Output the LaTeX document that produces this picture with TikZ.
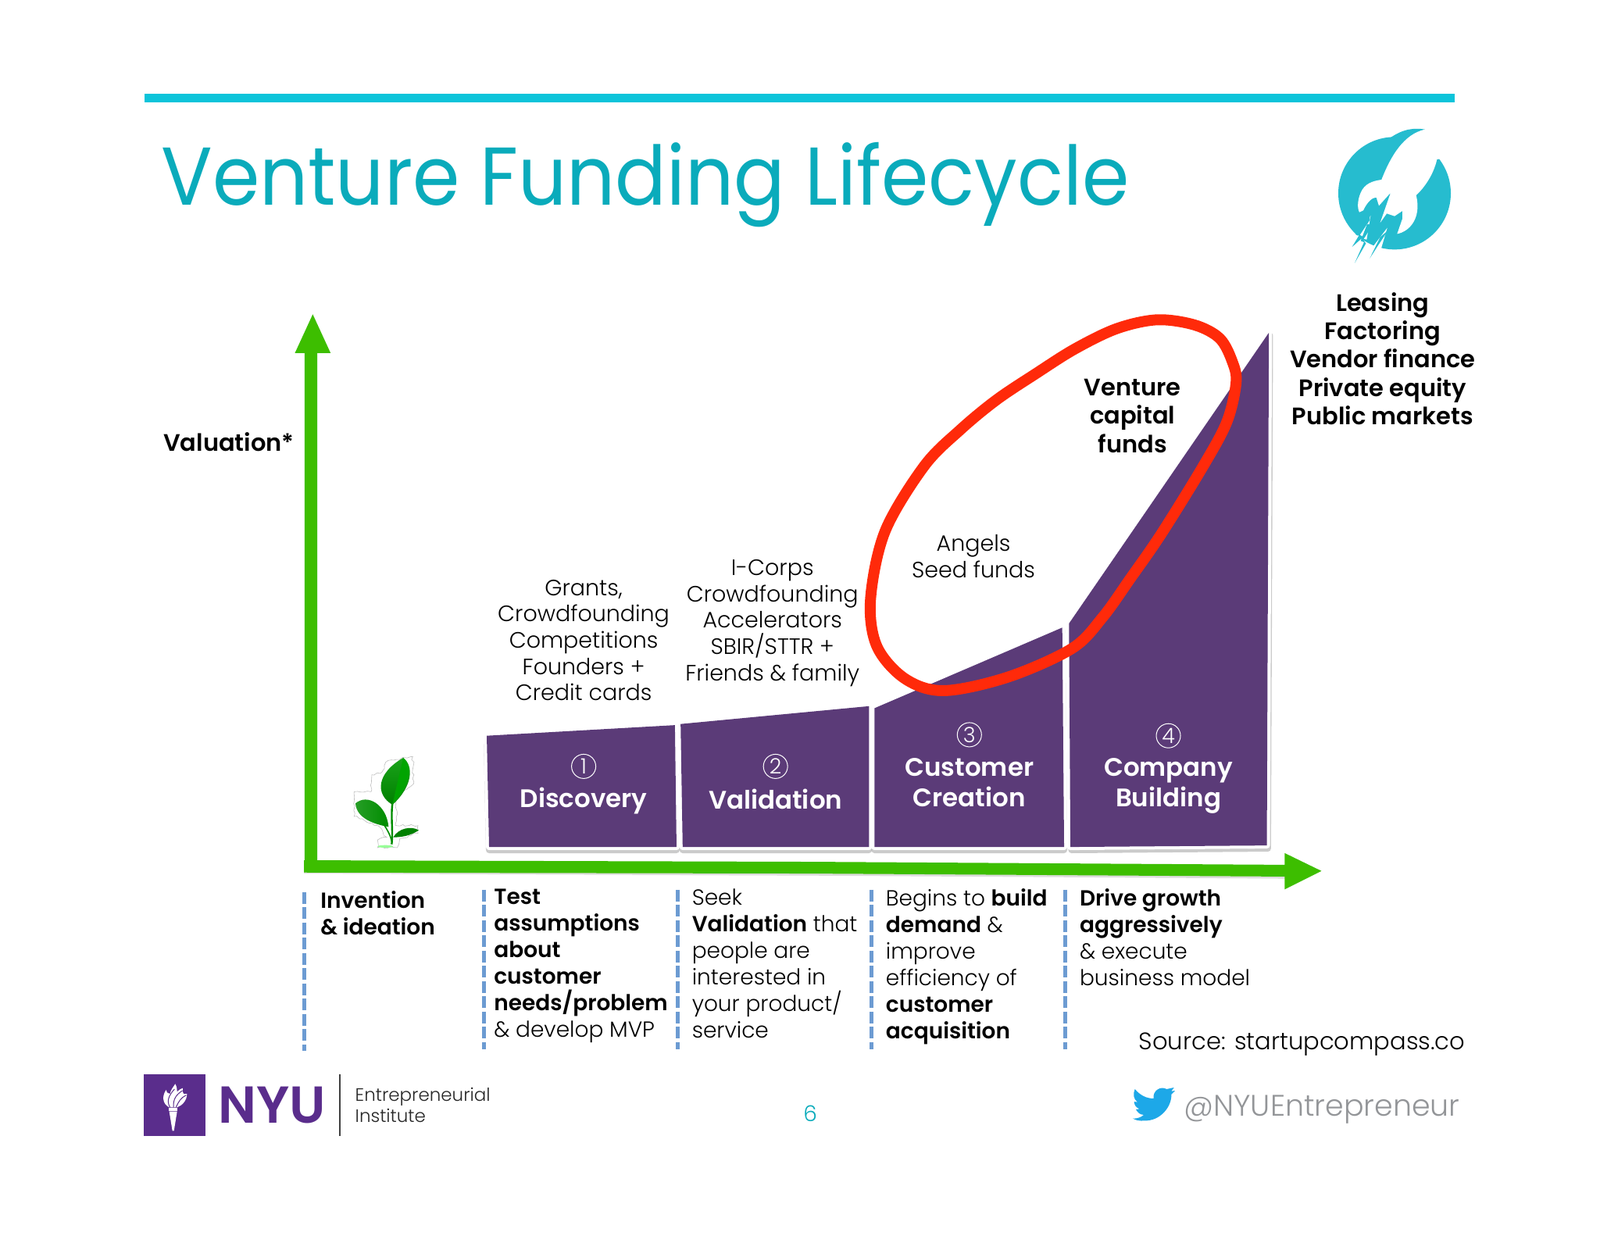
\documentclass[tikz,border=0pt]{standalone}
\usepackage{fontspec}
\usetikzlibrary{decorations.pathmorphing}
\setmainfont{Poppins Light}[BoldFont={Poppins SemiBold}]
\newfontfamily\regf{Poppins}[FakeStretch=0.925]
\definecolor{rulec}{HTML}{0CC4DA}
\definecolor{titlec}{HTML}{0AABBB}
\definecolor{rocketc}{HTML}{26BCCF}
\definecolor{purp}{HTML}{5B3B78}
\definecolor{nyup}{HTML}{5A2D8C}
\definecolor{greenc}{HTML}{3DBE00}
\definecolor{redc}{HTML}{FF2A0A}
\definecolor{dashc}{HTML}{6C9BD2}
\definecolor{birdc}{HTML}{1DA8E8}
\definecolor{handlec}{HTML}{939598}
\tikzset{
  block/.style={fill=purp,draw=none},
  frame/.style={draw=white,fill=white,line width=8pt,line join=round},
  fshadow/.style={draw=black!45,fill=black!45,line width=8pt,line join=round,opacity=.45},
  bodytext/.style={inner sep=0pt,align=center,text=black,font=\fontsize{28.5}{33.6}\selectfont},
  boldtext/.style={inner sep=0pt,align=center,text=black,font=\fontsize{30.5}{36.4}\selectfont\bfseries},
  desc/.style={inner sep=0pt,align=left,anchor=north west,text=black,text depth=0pt,font=\fontsize{28}{34}\selectfont},
  wlabel/.style={inner sep=0pt,align=center,text=white,font=\fontsize{32.5}{39.5}\selectfont\bfseries},
  num/.style={circle,draw=white,line width=1pt,inner sep=0pt,minimum size=31pt,text=white,font=\fontsize{27}{27}\selectfont},
  divider/.style={dashc,line width=5.2pt,dash pattern=on 15pt off 4.5pt},
  tip/.style={fill=greenc,draw=none},
}
\begin{document}
\begin{tikzpicture}[x=1.30612pt,y=-1.30612pt]
\useasboundingbox (0,0) rectangle (1568,1211.2);
\fill[white] (0,0) rectangle (1568,1211.2);
% rule and title
\fill[rulec] (142,92) rectangle (1425.6,100.3);
\node[inner sep=0pt,anchor=base west,text=titlec,font=\fontsize{105}{105}\selectfont\regf] (title) at (158,201) {Venture Funding Lifecycle};
% rocket logo
\begin{scope}[x=.33333pt,y=-.33333pt,shift={(1600pt,-100pt)}]
  \fill[rocketc] (555,442) circle (216);
  \fill[rocketc] (535,232) .. controls (585,195) and (630,190) .. (672,197) -- (600,300) -- cycle;
  \fill[white] (672,197) .. controls (590,215) and (540,300) .. (505,390)
    .. controls (470,395) and (440,405) .. (425,440) .. controls (412,470) and (412,500) .. (420,515)
    -- (435,508) .. controls (450,475) and (470,458) .. (485,458) -- (495,490) -- (540,440)
    -- (500,555) -- (525,520) -- (555,530) -- (585,510) -- (585,540) -- (565,598)
    .. controls (610,590) and (660,540) .. (638,450) .. controls (670,420) and (705,370) .. (718,312)
    -- (790,300) -- (790,190) -- cycle;
  \fill[white] (463,528) -- (410,610) -- (448,620) -- cycle;
  \fill[white] (527,575) -- (470,650) -- (502,660) -- cycle;
  \fill[rocketc] (460,530) -- (405,600) -- (418,605) -- (392,648) -- (435,610) -- (422,602) -- (460,545) -- cycle;
  \fill[rocketc] (450,560) -- (425,625) -- (438,630) -- (402,710) -- (445,635) -- (435,620) -- (470,565) -- cycle;
  \fill[rocketc] (530,585) -- (490,645) -- (460,692) -- (500,610) -- cycle;
\end{scope}
% blocks
\path[fshadow,shift={(0,3)}] (477,721) -- (661.4,710.6) -- (663,830) -- (479.3,830) -- cycle;
\path[fshadow,shift={(0,3)}] (667,709.5) -- (851.6,692) -- (851.6,830) -- (669,830) -- cycle;
\path[fshadow,shift={(0,3)}] (857,694) -- (1041,615) -- (1042.8,830) -- (857,830) -- cycle;
\path[fshadow,shift={(1,3)}] (1047.6,611) -- (1243.5,326) -- (1241.5,828.5) -- (1049,830) -- cycle;
\path[frame] (477,721) -- (661.4,710.6) -- (663,830) -- (479.3,830) -- cycle;
\path[frame] (667,709.5) -- (851.6,692) -- (851.6,830) -- (669,830) -- cycle;
\path[frame] (857,694) -- (1041,615) -- (1042.8,830) -- (857,830) -- cycle;
\path[frame] (1047.6,611) -- (1243.5,326) -- (1241.5,828.5) -- (1049,830) -- cycle;
\path[block] (477,721) -- (661.4,710.6) -- (663,830) -- (479.3,830) -- cycle;
\path[block] (667,709.5) -- (851.6,692) -- (851.6,830) -- (669,830) -- cycle;
\path[block] (857,694) -- (1041,615) -- (1042.8,830) -- (857,830) -- cycle;
\path[block] (1047.6,611) -- (1243.5,326) -- (1241.5,828.5) -- (1049,830) -- cycle;
\node[num] (n1) at (572,751) {1};
\node[num] (n2) at (760,751) {2};
\node[num] (n3) at (950,720) {3};
\node[num] (n4) at (1145,721) {4};
\node[wlabel] (l1) at (572,785) {Discovery};
\node[wlabel] (l2) at (760,783) {Validation};
\node[wlabel] (l3) at (950,767) {Customer\\Creation};
\node[wlabel] (l4) at (1145,770) {Company\\Building};
% axes
\fill[black!35,opacity=.4] (298,851) -- (792,853) -- (1262,858) -- (1262,861) -- (792,858) -- (298,856) -- cycle;
\fill[greenc] (298,843) -- (792,844.5) -- (1262,847.5) -- (1262,859) -- (792,856) -- (298,855) -- cycle;
\fill[greenc] (298.5,855) -- (298.5,340) -- (311,340) -- (311,845) -- cycle;
\coordinate (tipy) at (306.5,308);
\coordinate (tipx) at (1295,853.5);
\fill[tip] (tipy) -- (324,346) -- (289,346) -- cycle;
\fill[tip] (tipx) -- (1259,871.5) -- (1259,836) -- cycle;
% plant
\begin{scope}[x=.33333pt,y=-.33333pt,shift={(440pt,-960pt)}]
  \draw[black!25,line width=.6pt,decorate,decoration={random steps,segment length=4pt,amplitude=1.6pt}]
    (170,40) -- (265,25) -- (268,130) -- (205,175) -- (200,290) -- (285,290) -- (285,320) -- (215,340) -- (205,375) -- (130,375) -- (130,345) -- (165,335) -- (130,290) -- (40,255) -- (40,160) -- (105,160) -- (108,95) -- (140,90) -- cycle;
  \path[top color=green!60!black!90,bottom color=green!50!black] (228,30) .. controls (270,60) and (265,140) .. (187,210) .. controls (120,170) and (125,90) .. (228,30) -- cycle;
  \fill[green!65!black,opacity=.9] (228,30) .. controls (265,60) and (262,130) .. (187,210) .. controls (200,150) and (215,90) .. (228,30) -- cycle;
  \path[left color=green!55!black!85,right color=black!45!green] (45,205) .. controls (90,165) and (165,210) .. (172,295) .. controls (120,285) and (50,265) .. (45,205) -- cycle;
  \fill[green!50!black] (190,335) .. controls (210,300) and (260,290) .. (288,308) .. controls (255,330) and (220,335) .. (190,335) -- cycle;
  \draw[green!55!black,line width=2.4pt] (187,205) .. controls (180,260) and (190,310) .. (184,362);
  \draw[green!55!black,line width=1.6pt] (150,280) .. controls (170,310) and (180,330) .. (184,350);
  \fill[green!40] (160,370) ellipse (30 and 5);
\end{scope}
% dividers
\coordinate (d0a) at (298,874); \coordinate (d0b) at (298,1030);
\coordinate (d1a) at (474,872); \coordinate (d1b) at (474,1028);
\coordinate (d2a) at (664,872); \coordinate (d2b) at (664,1028);
\coordinate (d3a) at (854,872); \coordinate (d3b) at (854,1028);
\coordinate (d4a) at (1044,872); \coordinate (d4b) at (1044,1028);
\foreach \k in {0,1,2,3,4} {\draw[divider] (d\k a) -- (d\k b);}
% upper texts
\node[boldtext,anchor=west] (val) at (160,433) {Valuation*};
\node[bodytext] (t1) at (572,627.5) {Grants,\\Crowdfounding\\Competitions\\Founders +\\Credit cards};
\node[bodytext] (t2) at (757,610.5) {I-Corps\\Crowdfounding\\Accelerators\\SBIR/STTR +\\Friends \& family};
\node[bodytext] (t3) at (954,545) {Angels\\Seed funds};
\node[boldtext] (t4) at (1110,407.5) {Venture\\capital\\funds};
\node[boldtext] (t5) at (1355,351.5) {Leasing\\Factoring\\Vendor finance\\Private equity\\Public markets};
% red loop
\begin{scope}[x=.35714pt,y=-.33333pt,shift={(1090pt,-390pt)}]
  \draw[redc,line width=14pt,line join=round] plot[smooth cycle,tension=.55] coordinates {(1095,58) (1230,78) (1320,130) (1365,220) (1378,300) (1345,450) (1260,620) (1110,880) (1000,1050) (900,1200) (790,1320) (560,1430) (330,1482) (190,1435) (90,1310) (68,1130) (120,870) (260,620) (390,480) (520,365) (660,265) (800,170) (950,92)};
\end{scope}
% descriptions
\node[desc] (e0) at (314,873) {\textbf{Invention}\\\textbf{\& ideation}};
\node[desc] (e1) at (484,871) {\textbf{Test}\\\textbf{assumptions}\\\textbf{about}\\\textbf{customer}\\\textbf{needs/problem}\\\& develop MVP};
\node[desc] (e2) at (678,871) {Seek\\\textbf{Validation} that\\people are\\interested in\\your product/\\service};
\node[desc] (e3) at (868,871) {Begins to \textbf{build}\\\textbf{demand} \&\\improve\\efficiency of\\\textbf{customer}\\\textbf{acquisition}};
\node[desc] (e4) at (1058,871) {\textbf{Drive growth}\\\textbf{aggressively}\\\& execute\\business model};
\node[inner sep=0pt,anchor=west,text=black,font=\fontsize{30.6}{33}\selectfont] (src) at (1116,1023) {Source: startupcompass.co};
% footer
\fill[nyup] (141,1053) rectangle (201,1113);
\begin{scope}[x=.33333pt,y=-.33333pt,shift={(180pt,-1370pt)}]
  \fill[white] (108,145) rectangle (142,155);
  \fill[white] (110,158) -- (140,158) -- (128,232) -- (122,232) -- cycle;
  \fill[white] (110,142) .. controls (85,130) and (80,100) .. (98,75) .. controls (100,85) and (105,90) .. (113,90) .. controls (115,75) and (125,65) .. (133,52) .. controls (140,65) and (140,75) .. (140,82) .. controls (147,75) and (155,70) .. (162,68) .. controls (160,75) and (160,85) .. (165,90) .. controls (170,90) and (175,90) .. (178,90) .. controls (178,115) and (160,135) .. (140,142) -- cycle;
  \draw[nyup,line width=1pt] (113,142) .. controls (100,120) and (105,100) .. (130,72);
  \draw[nyup,line width=1pt] (126,142) .. controls (125,110) and (135,95) .. (160,78);
  \draw[nyup,line width=1pt] (136,142) .. controls (145,120) and (155,105) .. (175,95);
\end{scope}
\node[inner sep=0pt,text=nyup,anchor=west,font=\fontsize{66.5}{66.5}\selectfont\bfseries] (nyu) at (214,1083) {NYU};
\coordinate (vla) at (333,1053); \coordinate (vlb) at (333,1113);
\draw[black!75,line width=1.6pt] (vla) -- (vlb);
\node[inner sep=0pt,anchor=west,align=left,text=black!85,font=\fontsize{23}{26.5}\selectfont] (ei) at (348,1083) {Entrepreneurial\\Institute};
\node[inner sep=0pt,text=titlec,font=\fontsize{28}{28}\selectfont] (pg) at (794,1091) {6};
\begin{scope}[x=.33333pt,y=-.33333pt,shift={(1440pt,-1380pt)}]
  \fill[birdc] (38,42) .. controls (60,68) and (85,78) .. (110,78) .. controls (105,50) and (135,28) .. (160,42)
   -- (188,36) -- (178,50) -- (192,48) -- (178,62) .. controls (180,110) and (135,165) .. (75,163)
   .. controls (58,165) and (42,162) .. (30,155) .. controls (45,155) and (60,152) .. (72,141)
   .. controls (58,140) and (48,132) .. (42,120) -- (55,118) .. controls (42,112) and (35,102) .. (35,90)
   -- (48,92) .. controls (32,80) and (30,60) .. (38,42) -- cycle;
\end{scope}
\node[inner sep=0pt,anchor=west,text=handlec,font=\fontsize{38}{38}\selectfont] (tw) at (1160,1087) {@NYUEntrepreneur};
\end{tikzpicture}
\end{document}
